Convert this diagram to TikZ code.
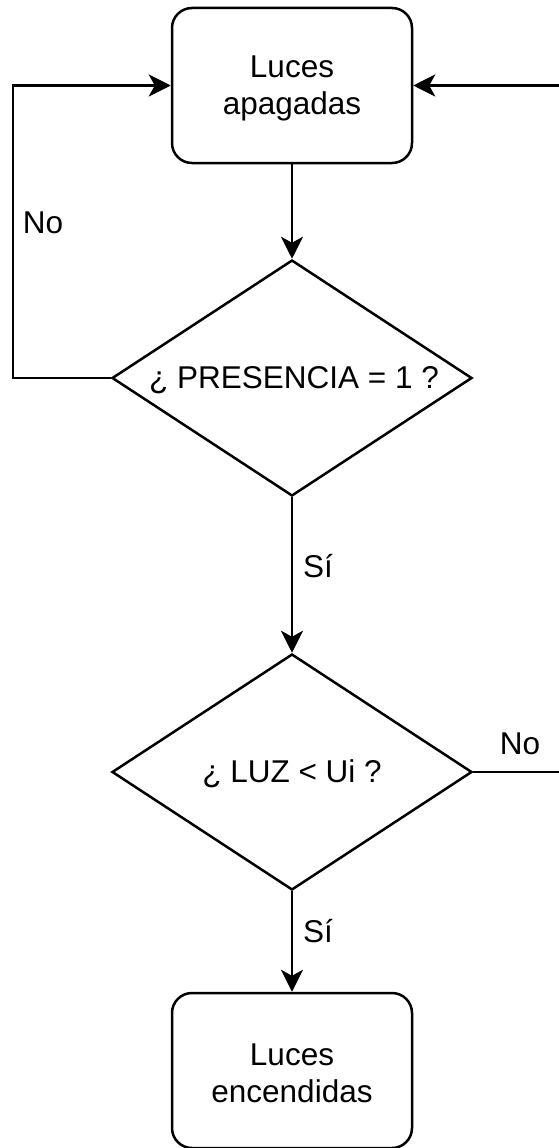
\documentclass[tikz,border=0pt]{standalone}
\usepackage{fontspec}
\setmainfont{Liberation Sans}
\usetikzlibrary{shapes.geometric,arrows.meta}
\begin{document}
\begin{tikzpicture}[x=1pt,y=-1pt,
  every node/.style={font=\fontsize{31.5}{37}\selectfont},
  arr/.style={line width=2.5pt,-{Stealth[length=22pt,width=22pt,inset=6pt]}},
  roundbox/.style={draw,line width=2.5pt,rounded corners=20pt,minimum width=240pt,minimum height=155pt,align=center,inner sep=0pt},
  boxtext/.style={inner sep=0pt,align=center},
  decision/.style={draw,line width=2.5pt,diamond,aspect=1.525,minimum width=360pt,minimum height=236pt,inner sep=0pt},
  lbl/.style={inner sep=0pt}]
\useasboundingbox (0,0) rectangle (558,1148);
\node[roundbox] (b1) at (292,85.5) {};
\node[boxtext] (t1) at (292,88.5) {Luces\\apagadas};
\node[decision] (d1) at (292,378) {};
\node[lbl] (q1) at (294,380) {¿ PRESENCIA = 1 ?};
\node[decision] (d2) at (292,772) {};
\node[lbl] (q2) at (292,774) {¿ LUZ < Ui ?};
\node[roundbox] (b2) at (292,1070.5) {};
\node[boxtext] (t2) at (292,1073.5) {Luces\\encendidas};
\coordinate (L) at (13,378);
\coordinate (R1) at (565,772);
\coordinate (R2) at (565,85.5);
\draw[arr] (b1) -- (d1);
\draw[arr] (d1) -- (d2);
\draw[arr] (d2) -- (b2);
\draw[arr] (d1.west) -- (L) |- (b1.west);
\draw[arr] (d2.east) -- (R1) -- (R2) -- (b1.east);
\node[lbl] (n1) at (43,223) {No};
\node[lbl] (s1) at (318,566) {Sí};
\node[lbl] (s2) at (318,931) {Sí};
\node[lbl] (n2) at (520,744) {No};
\end{tikzpicture}
\end{document}
